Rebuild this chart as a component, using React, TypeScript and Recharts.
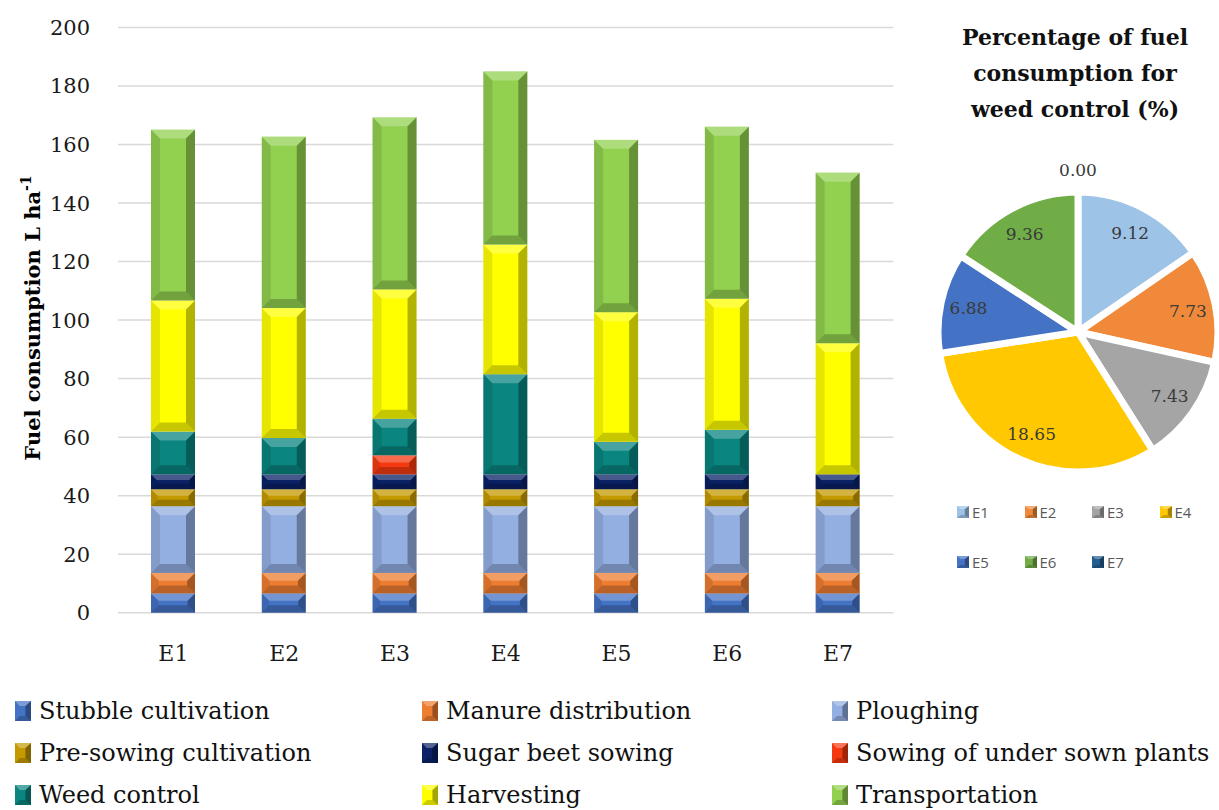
import React from 'react';
import { BarChart, Bar, XAxis, YAxis, CartesianGrid, PieChart, Pie, Cell } from 'recharts';

// categories
const trials = ['E1', 'E2', 'E3', 'E4', 'E5', 'E6', 'E7'];

// fuel consumption per operation, L/ha
const stubble = [6.6, 6.6, 6.6, 6.6, 6.6, 6.6, 6.6];
const manure = [7.0, 7.0, 7.0, 7.0, 7.0, 7.0, 7.0];
const ploughing = [22.8, 22.8, 22.8, 22.8, 22.8, 22.8, 22.8];
const preSowing = [5.8, 5.8, 5.8, 5.8, 5.8, 5.8, 5.8];
const beetSowing = [5.1, 5.1, 5.1, 5.1, 5.1, 5.1, 5.1];
const underSown = [0, 0, 6.5, 0, 0, 0, 0];
const weedControl = [14.6, 12.4, 12.5, 34.2, 11.1, 15.2, 0];
const harvesting = [44.8, 44.4, 44.2, 44.3, 44.3, 44.8, 44.8];
const transport = [58.4, 58.6, 58.8, 59.2, 58.9, 58.8, 58.3];

const yTicks = [0, 20, 40, 60, 80, 100, 120, 140, 160, 180, 200];

// share of weed control in total fuel use, %
const weedShare = [9.12, 7.73, 7.43, 18.65, 6.88, 9.36, 0.0];
const pieColors = ['#9DC3E6', '#F08A3A', '#A5A5A5', '#FFC800', '#4472C4', '#70AD47', '#255E91'];

const series = [
  { key: 'stubble', name: 'Stubble cultivation', values: stubble, color: '#4472C4' },
  { key: 'manure', name: 'Manure distribution', values: manure, color: '#ED7D31' },
  { key: 'ploughing', name: 'Ploughing', values: ploughing, color: '#93AEE0' },
  { key: 'preSowing', name: 'Pre-sowing cultivation', values: preSowing, color: '#C49A00' },
  { key: 'beetSowing', name: 'Sugar beet sowing', values: beetSowing, color: '#0A2166' },
  { key: 'underSown', name: 'Sowing of under sown plants', values: underSown, color: '#F53A10' },
  { key: 'weedControl', name: 'Weed control', values: weedControl, color: '#0A857F' },
  { key: 'harvesting', name: 'Harvesting', values: harvesting, color: '#FFFF00' },
  { key: 'transport', name: 'Transportation', values: transport, color: '#92D050' },
];

const barData = trials.map((name, i) => {
  const row: any = { name };
  series.forEach(s => { row[s.key] = s.values[i]; });
  return row;
});

const pieData = trials.map((name, i) => ({ name, value: weedShare[i] }));

const SERIF = '"DejaVu Serif", serif';

// bar segment with a soft bevel look
const BevelBar = (props: any) => {
  const { x, y, width, height, fill } = props;
  if (!height || height <= 0.5) return null;
  const b = Math.min(9, height / 2.6, width / 4);
  return (
    <g>
      <rect x={x} y={y} width={width} height={height} fill={fill} />
      <polygon points={`${x},${y} ${x + width},${y} ${x + width - b},${y + b} ${x + b},${y + b}`} fill="#fff" fillOpacity={0.25} />
      <polygon points={`${x + width},${y} ${x + width},${y + height} ${x + width - b},${y + height - b} ${x + width - b},${y + b}`} fill="#000" fillOpacity={0.3} />
      <polygon points={`${x},${y + height} ${x + width},${y + height} ${x + width - b},${y + height - b} ${x + b},${y + height - b}`} fill="#000" fillOpacity={0.22} />
      <polygon points={`${x},${y} ${x + b},${y + b} ${x + b},${y + height - b} ${x},${y + height}`} fill="#000" fillOpacity={0.1} />
    </g>
  );
};

const Marker = ({ color, w, h }: { color: string; w: number; h: number }) => (
  <svg width={w} height={h} style={{ display: 'block' }}>
    <rect x={0} y={0} width={w} height={h} fill={color} />
    <polygon points={`${w},0 ${w},${h} ${w * 0.65},${h * 0.75} ${w * 0.65},${h * 0.25}`} fill="#000" fillOpacity={0.35} />
    <polygon points={`0,${h} ${w},${h} ${w * 0.65},${h * 0.75} ${w * 0.3},${h * 0.75}`} fill="#000" fillOpacity={0.2} />
    <polygon points={`0,0 ${w},0 ${w * 0.65},${h * 0.25} ${w * 0.3},${h * 0.25}`} fill="#fff" fillOpacity={0.3} />
  </svg>
);

const RADIAN = Math.PI / 180;
const renderPieLabel = (p: any) => {
  const { cx, cy, midAngle, outerRadius, value } = p;
  const r = value === 0 ? outerRadius + 22 : outerRadius * 0.8;
  const x = cx + r * Math.cos(-midAngle * RADIAN);
  const y = cy + r * Math.sin(-midAngle * RADIAN);
  return (
    <text x={x} y={y} textAnchor="middle" dominantBaseline="central" fontFamily={SERIF} fontSize={17} fill="#3A3A3A">
      {value.toFixed(2)}
    </text>
  );
};

const YLabel = () => (
  <text transform="translate(40,318) rotate(-90)" textAnchor="middle" fontFamily={SERIF} fontSize={21} fontWeight="bold" fill="#000">
    Fuel consumption L ha<tspan dy={-9} fontSize={14}>-1</tspan>
  </text>
);

export default function App() {
  return (
    <div style={{ position: 'absolute', left: 0, top: 0, width: 1219, height: 810, background: '#fff', overflow: 'hidden' }}>
      <div style={{ position: 'absolute', left: 0, top: 0 }}>
        <BarChart width={900} height={685} data={barData} margin={{ top: 27.5, right: 6.6, left: 60, bottom: 42.3 }}>
          <CartesianGrid vertical={false} stroke="#D9D9D9" strokeWidth={1.5} />
          <XAxis
            dataKey="name"
            axisLine={false}
            tickLine={false}
            tickMargin={27}
            height={30}
            tick={{ fontFamily: SERIF, fontSize: 22, fill: '#1a1a1a' }}
          />
          <YAxis
            domain={[0, 200]}
            ticks={yTicks}
            axisLine={false}
            tickLine={false}
            tickMargin={22}
            width={58}
            tick={{ fontFamily: SERIF, fontSize: 21, fill: '#1a1a1a' }}
            label={{ content: () => <YLabel /> }}
          />
          {series.map(s => (
            <Bar
              key={s.key}
              dataKey={s.key}
              name={s.name}
              stackId="fuel"
              fill={s.color}
              barSize={44}
              shape={<BevelBar />}
              isAnimationActive={false}
            />
          ))}
        </BarChart>
      </div>

      <div
        style={{
          position: 'absolute', left: 940, top: 19, width: 270, textAlign: 'center',
          fontFamily: SERIF, fontWeight: 'bold', fontSize: 22, lineHeight: '36px', color: '#111',
        }}
      >
        Percentage of fuel<br />consumption for<br />weed control (%)
      </div>

      <div style={{ position: 'absolute', left: 900, top: 140 }}>
        <PieChart width={319} height={380}>
          <Pie
            data={pieData}
            dataKey="value"
            nameKey="name"
            cx={173}
            cy={187}
            outerRadius={140}
            startAngle={90}
            endAngle={-270}
            stroke="#fff"
            strokeWidth={7}
            label={renderPieLabel}
            labelLine={false}
            isAnimationActive={false}
          >
            {pieData.map((d, i) => (
              <Cell key={d.name} fill={pieColors[i]} />
            ))}
          </Pie>
        </PieChart>
      </div>

      {trials.map((t, i) => (
        <div
          key={t}
          style={{
            position: 'absolute', left: 957 + (i % 4) * 67.5, top: i < 4 ? 502 : 552,
            display: 'flex', alignItems: 'center', gap: 3,
            fontFamily: '"Open Sans", sans-serif', fontSize: 15, color: '#595959',
          }}
        >
          <Marker color={pieColors[i]} w={12} h={12} />
          <span>{t}</span>
        </div>
      ))}

      {series.map((s, i) => (
        <div
          key={s.key}
          style={{
            position: 'absolute', left: [15, 422, 832][i % 3], top: 697 + Math.floor(i / 3) * 42,
            display: 'flex', alignItems: 'center', gap: 8,
            fontFamily: SERIF, fontSize: 24, color: '#111', whiteSpace: 'nowrap',
          }}
        >
          <Marker color={s.color} w={16} h={20} />
          <span>{s.name}</span>
        </div>
      ))}
    </div>
  );
}
